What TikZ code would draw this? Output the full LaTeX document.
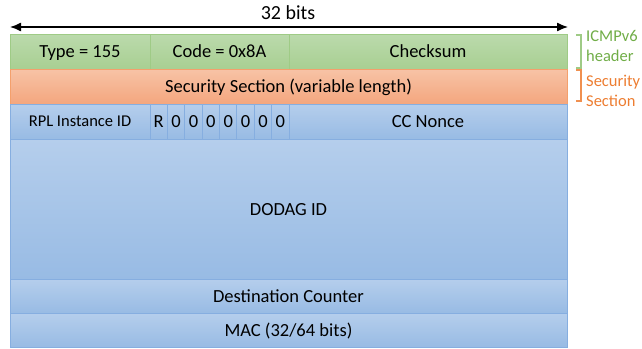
\documentclass[tikz,border=0pt]{standalone}
\usepackage{fontspec}
\setmainfont{Carlito}
\usetikzlibrary{arrows.meta}
\definecolor{gTop}{HTML}{BBDAAC}
\definecolor{gBot}{HTML}{A8CF92}
\definecolor{gLine}{HTML}{9FCB86}
\definecolor{oTop}{HTML}{F7C3A6}
\definecolor{oBot}{HTML}{F4A67E}
\definecolor{oLine}{HTML}{F4A06C}
\definecolor{bTop}{HTML}{B5CEEC}
\definecolor{bBot}{HTML}{98BBE4}
\definecolor{bLine}{HTML}{86AEE0}
\definecolor{gText}{HTML}{70AD47}
\definecolor{oText}{HTML}{ED7D31}
\tikzset{
  cell/.style={draw, line width=1pt, anchor=north west, inner sep=0pt, outer sep=0pt,
    font=\fontsize{18.5}{22}\selectfont, text=black, text height=12pt, text depth=-1pt},
  gcell/.style={cell, draw=gLine, top color=gTop, bottom color=gBot},
  ocell/.style={cell, draw=oLine, top color=oTop, bottom color=oBot},
  bcell/.style={cell, draw=bLine, top color=bTop, bottom color=bBot},
  bitcell/.style={bcell, minimum width=17.375pt, minimum height=35pt},
  side/.style={anchor=west, align=left, font=\fontsize{16.5}{20}\selectfont, inner sep=0pt},
  brk/.style={line width=1.2pt},
}
\begin{document}
\begin{tikzpicture}[x=1pt,y=-1pt]
\useasboundingbox (0,0) rectangle (642,348);
% row 1
\node[gcell, minimum width=140pt, minimum height=35pt] (type) at (10,34) {Type = 155};
\node[gcell, minimum width=139pt, minimum height=35pt] (code) at (150,34) {Code = 0x8A};
\node[gcell, minimum width=278pt, minimum height=35pt] (chk) at (289,34) {Checksum};
% row 2
\node[ocell, minimum width=557pt, minimum height=35pt] (sec) at (10,69) {Security Section (variable length)};
% row 3
\node[bcell, minimum width=140pt, minimum height=35pt, font=\fontsize{16.5}{20}\selectfont, text height=10.5pt] (rpl) at (10,104) {RPL Instance ID};
\node[bitcell] (b1) at (150,104) {R};
\node[bitcell] (b2) at (167.375,104) {0};
\node[bitcell] (b3) at (184.75,104) {0};
\node[bitcell] (b4) at (202.125,104) {0};
\node[bitcell] (b5) at (219.5,104) {0};
\node[bitcell] (b6) at (236.875,104) {0};
\node[bitcell] (b7) at (254.25,104) {0};
\node[bitcell] (b8) at (271.625,104) {0};
\node[bcell, minimum width=278pt, minimum height=35pt] (nonce) at (289,104) {CC Nonce};
% rows 4-6
\node[bcell, minimum width=557pt, minimum height=140pt] (dodag) at (10,139) {DODAG ID};
\node[bcell, minimum width=557pt, minimum height=34pt] (dest) at (10,279) {Destination Counter};
\node[bcell, minimum width=557pt, minimum height=34pt] (mac) at (10,313) {MAC (32/64 bits)};
% width arrow
\coordinate (aL) at (10,27);
\coordinate (aR) at (568,27);
\draw[line width=1.3pt, {Latex[length=11pt,width=9pt]}-{Latex[length=11pt,width=9pt]}] (aL) -- (aR);
\node[font=\fontsize{20}{24}\selectfont, inner sep=0pt] (bits) at (288,13) {32 bits};
% brackets
\coordinate (g1) at (576,35);
\coordinate (g2) at (581,35);
\coordinate (g3) at (581,68);
\coordinate (g4) at (576,68);
\draw[brk, draw=gLine] (g1) -- (g2) -- (g3) -- (g4);
\coordinate (o1) at (576,70);
\coordinate (o2) at (581,70);
\coordinate (o3) at (581,101);
\coordinate (o4) at (576,101);
\draw[brk, draw=oText!85] (o1) -- (o2) -- (o3) -- (o4);
\node[side, text=gText] (icmp) at (586,46) {ICMPv6\\header};
\node[side, text=oText] (secl) at (586,91) {Security\\Section};
\end{tikzpicture}
\end{document}
